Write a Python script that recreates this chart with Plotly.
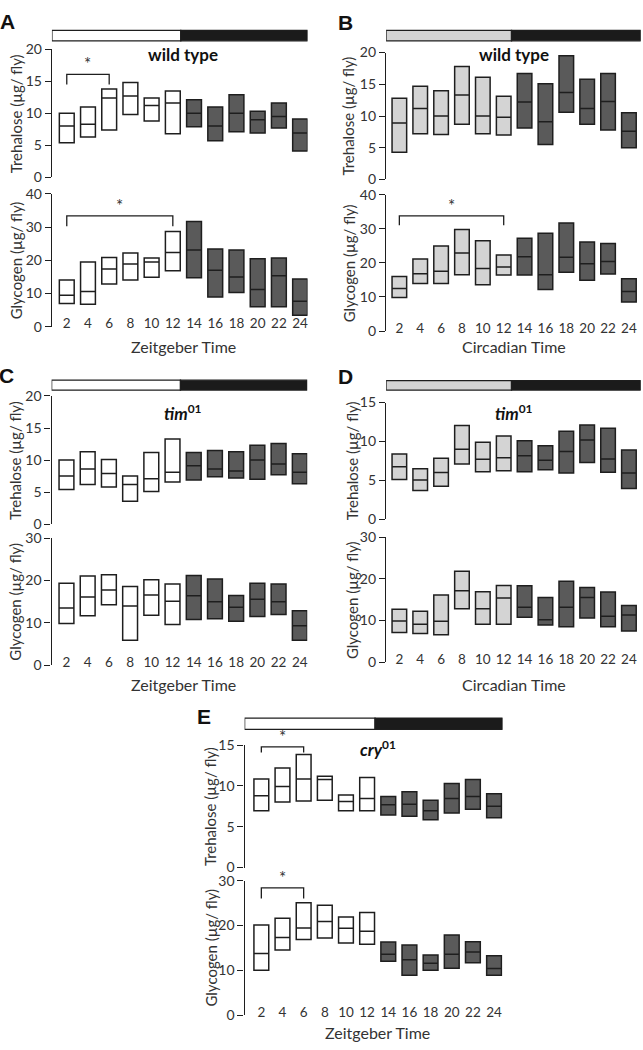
import plotly.graph_objects as go

# ---------------- data ----------------
TIMES = [2, 4, 6, 8, 10, 12, 14, 16, 18, 20, 22, 24]
X_TICKS = [2, 4, 6, 8, 10, 12, 14, 16, 18, 20, 22, 24]

# Panel A: wild type, LD (Zeitgeber time)
A_TRE_MIN = [5.4, 6.3, 7.4, 9.8, 8.8, 6.8, 7.9, 5.7, 7.1, 6.9, 7.7, 4.1]
A_TRE_MED = [8.0, 8.3, 12.4, 12.7, 11.2, 11.6, 10.0, 8.0, 10.0, 9.0, 9.5, 6.9]
A_TRE_MAX = [10.0, 11.0, 13.8, 14.8, 12.4, 13.5, 12.1, 11.0, 12.9, 10.3, 11.6, 9.1]
A_GLY_MIN = [7.0, 6.8, 12.9, 14.1, 14.9, 16.9, 14.8, 9.0, 10.3, 6.0, 6.0, 3.5]
A_GLY_MED = [9.5, 10.6, 17.4, 18.9, 19.5, 22.4, 23.1, 17.0, 15.0, 11.2, 15.4, 7.7]
A_GLY_MAX = [14.1, 19.5, 20.9, 22.2, 20.7, 28.7, 31.7, 23.4, 23.1, 20.5, 20.7, 14.4]

# Panel B: wild type, DD (circadian time)
B_TRE_MIN = [4.3, 7.2, 7.1, 8.7, 7.2, 7.0, 8.1, 5.5, 10.6, 8.7, 7.8, 5.0]
B_TRE_MED = [8.9, 11.2, 10.0, 13.3, 10.0, 9.8, 12.2, 9.1, 13.7, 11.2, 12.3, 7.6]
B_TRE_MAX = [12.8, 14.7, 14.0, 17.8, 16.1, 13.1, 16.7, 15.1, 19.5, 15.8, 16.7, 10.5]
B_GLY_MIN = [9.8, 13.9, 13.9, 16.5, 13.6, 16.4, 16.4, 12.2, 17.2, 14.9, 16.7, 8.5]
B_GLY_MED = [12.5, 16.8, 17.5, 22.9, 18.3, 18.8, 21.8, 16.5, 21.6, 19.7, 20.4, 11.6]
B_GLY_MAX = [16.0, 21.1, 24.9, 29.8, 26.5, 22.3, 27.2, 28.7, 31.7, 26.1, 25.7, 15.3]

# Panel C: tim01, LD
C_TRE_MIN = [5.4, 6.2, 5.8, 3.6, 5.1, 6.6, 6.9, 7.4, 7.2, 7.0, 7.7, 6.3]
C_TRE_MED = [7.5, 8.6, 7.9, 6.2, 7.1, 8.1, 9.1, 8.6, 8.3, 10.0, 9.4, 8.1]
C_TRE_MAX = [10.0, 11.3, 10.1, 7.5, 11.2, 13.3, 11.2, 11.5, 11.3, 12.3, 12.6, 11.0]
C_GLY_MIN = [9.85, 11.7, 14.3, 5.9, 11.8, 9.6, 10.8, 11.0, 10.4, 11.5, 12.0, 5.9]
C_GLY_MED = [13.5, 16.1, 17.8, 14.0, 16.6, 15.1, 16.4, 15.0, 13.7, 15.6, 15.0, 9.3]
C_GLY_MAX = [19.4, 21.1, 21.4, 18.6, 20.2, 19.2, 21.2, 20.4, 16.5, 19.4, 19.2, 12.9]

# Panel D: tim01, DD
D_TRE_MIN = [5.1, 3.7, 4.25, 7.1, 6.1, 6.25, 6.1, 6.35, 5.95, 7.3, 6.05, 3.95]
D_TRE_MED = [6.75, 5.05, 6.0, 9.0, 7.7, 7.9, 8.15, 7.6, 8.7, 10.2, 7.75, 5.95]
D_TRE_MAX = [8.4, 6.5, 7.85, 12.05, 9.9, 10.7, 10.1, 9.45, 11.3, 12.1, 11.7, 8.9]
D_GLY_MIN = [7.1, 6.9, 6.6, 12.8, 9.1, 9.1, 10.8, 8.9, 8.5, 10.6, 8.5, 7.5]
D_GLY_MED = [9.9, 9.1, 9.8, 17.1, 12.8, 15.4, 13.2, 10.2, 13.2, 15.5, 11.0, 11.3]
D_GLY_MAX = [12.7, 12.2, 16.1, 21.8, 16.9, 18.4, 18.3, 15.5, 19.4, 17.9, 16.8, 13.6]

# Panel E: cry01, LD
E_TRE_MIN = [6.95, 8.05, 8.15, 8.25, 6.95, 6.95, 6.45, 6.3, 5.85, 6.7, 7.15, 6.1]
E_TRE_MED = [8.8, 9.95, 10.85, 10.8, 8.1, 8.45, 7.7, 7.75, 6.95, 8.45, 8.7, 7.5]
E_TRE_MAX = [10.85, 12.2, 13.85, 11.2, 8.9, 11.05, 8.7, 9.3, 8.25, 10.3, 10.8, 9.05]
E_GLY_MIN = [10.0, 14.55, 16.9, 17.2, 16.1, 15.8, 12.0, 8.9, 10.0, 10.45, 11.7, 8.9]
E_GLY_MED = [13.75, 17.3, 19.45, 20.9, 19.4, 18.7, 13.6, 12.35, 11.55, 13.6, 14.1, 10.4]
E_GLY_MAX = [20.1, 21.6, 25.1, 24.5, 21.9, 22.9, 16.3, 15.65, 13.4, 17.9, 16.4, 13.25]

# significance brackets: (from time, to time, bracket level, end level)
A_TRE_SIG = [(2, 6, 16.1, 14.5)]
A_GLY_SIG = [(2, 12, 33.4, 30.3)]
B_GLY_SIG = [(2, 12, 33.8, 31.0)]
E_TRE_SIG = [(2, 6, 14.8, 14.1)]
E_GLY_SIG = [(2, 6, 28.4, 26.0)]

LIGHT_PHASE_END = 12.75  # light/dark switch on the top bar

# ---------------- style / layout ----------------
W, H = 643, 1050
FONT = "Lato"
INK = "#1e1e1e"
TXT = "#333333"
WHITE = "#ffffff"
LIGHTGRAY = "#d4d4d4"
DARKGRAY = "#5a5a5a"
NIGHT = "#1b1b1b"


def px(x):
    return x / W


def py(y):
    return 1 - y / H


panels = [
    dict(letter="A", letter_xy=(8, 13), x_px=(52, 308), xr=(0.6, 24.7), light=WHITE,
         bar_px=(21.7, 32.3), title="<b>wild type</b>", title_y=46.5,
         xlabel="Zeitgeber Time", xlabel_y=343.5, ytitle_x=16,
         top=dict(px=(41, 171), rng=20, ticks=[0, 5, 10, 15, 20],
                  data=(A_TRE_MIN, A_TRE_MED, A_TRE_MAX), sig=A_TRE_SIG),
         bot=dict(px=(188, 323), rng=40, ticks=[0, 10, 20, 30, 40],
                  data=(A_GLY_MIN, A_GLY_MED, A_GLY_MAX), sig=A_GLY_SIG)),
    dict(letter="B", letter_xy=(346.5, 13.5), x_px=(386.7, 641.7), xr=(0.73, 25.13), light=LIGHTGRAY,
         bar_px=(21.7, 32.3), title="<b>wild type</b>", title_y=46,
         xlabel="Circadian Time", xlabel_y=343.5, ytitle_x=349,
         top=dict(px=(44.3, 173.3), rng=20, ticks=[0, 5, 10, 15, 20],
                  data=(B_TRE_MIN, B_TRE_MED, B_TRE_MAX), sig=[]),
         bot=dict(px=(188.7, 327.3), rng=40, ticks=[0, 10, 20, 30, 40],
                  data=(B_GLY_MIN, B_GLY_MED, B_GLY_MAX), sig=B_GLY_SIG)),
    dict(letter="C", letter_xy=(7, 373), x_px=(51.7, 307.7), xr=(0.6, 24.7), light=WHITE,
         bar_px=(377.3, 387.3), title="<b><i>tim</i><sup>01</sup></b>", title_y=410,
         xlabel="Zeitgeber Time", xlabel_y=686.5, ytitle_x=15,
         top=dict(px=(393.3, 523.7), rng=20, ticks=[0, 5, 10, 15, 20],
                  data=(C_TRE_MIN, C_TRE_MED, C_TRE_MAX), sig=[]),
         bot=dict(px=(538, 667), rng=30, ticks=[0, 10, 20, 30],
                  data=(C_GLY_MIN, C_GLY_MED, C_GLY_MAX), sig=[])),
    dict(letter="D", letter_xy=(346.5, 374), x_px=(386.7, 641.7), xr=(0.73, 25.13), light=LIGHTGRAY,
         bar_px=(377.7, 387.3), title="<b><i>tim</i><sup>01</sup></b>", title_y=410.5,
         xlabel="Circadian Time", xlabel_y=686.5, ytitle_x=352,
         top=dict(px=(400, 518.7), rng=15, ticks=[0, 5, 10, 15],
                  data=(D_TRE_MIN, D_TRE_MED, D_TRE_MAX), sig=[]),
         bot=dict(px=(536.7, 664), rng=30, ticks=[0, 10, 20, 30],
                  data=(D_GLY_MIN, D_GLY_MED, D_GLY_MAX), sig=[])),
    dict(letter="E", letter_xy=(204.5, 719.5), x_px=(245, 503.3), xr=(0.42, 24.8), light=WHITE,
         bar_px=(720.7, 732.3), title="<b><i>cry</i><sup>01</sup></b>", title_y=751.5,
         xlabel="Zeitgeber Time", xlabel_y=1040.5, ytitle_x=211,
         top=dict(px=(748.3, 872.7), rng=15, ticks=[0, 5, 10, 15],
                  data=(E_TRE_MIN, E_TRE_MED, E_TRE_MAX), sig=E_TRE_SIG),
         bot=dict(px=(886, 1022.7), rng=30, ticks=[0, 10, 20, 30],
                  data=(E_GLY_MIN, E_GLY_MED, E_GLY_MAX), sig=E_GLY_SIG)),
]

fig = go.Figure()
layout = dict(width=W, height=H, margin=dict(l=0, r=0, t=0, b=0),
              paper_bgcolor="white", plot_bgcolor="rgba(0,0,0,0)",
              showlegend=False, boxmode="overlay",
              font=dict(family=FONT, color=TXT))
annotations = []
shapes = []

BOX_W = 1.4
n_light = sum(1 for t in TIMES if t <= 12)

idx = 0
for p in panels:
    for row, ytitle in (("top", "Trehalose (µg/ fly)"), ("bot", "Glycogen (µg/ fly)")):
        idx += 1
        sub = p[row]
        xa = f"x{idx}"
        ya = f"y{idx}"
        lo, med, hi = sub["data"]
        for sl, fill in ((slice(0, n_light), p["light"]), (slice(n_light, None), DARKGRAY)):
            fig.add_trace(go.Box(
                x=TIMES[sl], q1=lo[sl], median=med[sl], q3=hi[sl],
                lowerfence=lo[sl], upperfence=hi[sl],
                width=BOX_W, fillcolor=fill, boxpoints=False, whiskerwidth=0,
                line=dict(color=INK, width=1.5), xaxis=xa, yaxis=ya,
                hoverinfo="skip"))
        for (t0, t1, lvl, end) in sub["sig"]:
            fig.add_trace(go.Scatter(
                x=[t0, t0, t1, t1], y=[end, lvl, lvl, end], mode="lines",
                line=dict(color=INK, width=1.3), xaxis=xa, yaxis=ya,
                hoverinfo="skip", cliponaxis=False))
            annotations.append(dict(
                x=(t0 + t1) / 2, y=lvl, xref=xa, yref=ya, text="*",
                showarrow=False, yanchor="bottom", yshift=-2,
                font=dict(family=FONT, size=17, color=TXT)))
        ydom = [py(sub["px"][1]), py(sub["px"][0])]
        layout[f"yaxis{idx}"] = dict(
            domain=ydom, range=[0, sub["rng"]], tickvals=sub["ticks"],
            anchor=xa, showline=True, linecolor=INK, linewidth=1.4,
            ticks="outside", ticklen=6, tickwidth=1.4, tickcolor=INK,
            tickfont=dict(family=FONT, size=14, color=TXT),
            showgrid=False, zeroline=False, fixedrange=True)
        layout[f"xaxis{idx}"] = dict(
            domain=[px(p["x_px"][0]), px(p["x_px"][1])], range=list(p["xr"]),
            anchor=ya, showline=False, showgrid=False, zeroline=False,
            ticks="", tickvals=X_TICKS, showticklabels=(row == "bot"),
            ticklabelstandoff=-13,
            tickfont=dict(family=FONT, size=13.5, color=TXT), fixedrange=True)
        annotations.append(dict(
            x=px(p["ytitle_x"]), y=(ydom[0] + ydom[1]) / 2, xref="paper", yref="paper",
            text=ytitle, textangle=-90, showarrow=False,
            xanchor="center", yanchor="middle",
            font=dict(family=FONT, size=15, color=TXT)))
        if row == "top":
            top_x = xa
        else:
            annotations.append(dict(
                x=13, y=py(p["xlabel_y"]), xref=xa, yref="paper",
                text=p["xlabel"], showarrow=False, xanchor="center", yanchor="middle",
                font=dict(family=FONT, size=16, color=TXT)))
    # light / dark bar
    b0, b1 = py(p["bar_px"][1]), py(p["bar_px"][0])
    shapes.append(dict(type="rect", xref=top_x, yref="paper",
                       x0=p["xr"][0], x1=LIGHT_PHASE_END, y0=b0, y1=b1,
                       fillcolor=p["light"], line=dict(color=INK, width=1.3)))
    shapes.append(dict(type="rect", xref=top_x, yref="paper",
                       x0=LIGHT_PHASE_END, x1=p["xr"][1], y0=b0, y1=b1,
                       fillcolor=NIGHT, line=dict(color=INK, width=1.3)))
    # panel title
    annotations.append(dict(
        x=13, y=py(p["title_y"]), xref=top_x, yref="paper", text=p["title"],
        showarrow=False, xanchor="center", yanchor="middle",
        font=dict(family=FONT, size=17, color="#111111")))
    # panel letter
    annotations.append(dict(
        x=px(p["letter_xy"][0]), y=py(p["letter_xy"][1]), xref="paper", yref="paper",
        text=f"<b>{p['letter']}</b>", showarrow=False, xanchor="center", yanchor="middle",
        font=dict(family="Liberation Sans", size=21, color="#111111")))

layout["annotations"] = annotations
layout["shapes"] = shapes
fig.update_layout(**layout)
fig.write_html(
    "out.html",
    config={"displayModeBar": False},
    post_script="document.body.style.margin='0';document.body.style.overflow='hidden';",
)
